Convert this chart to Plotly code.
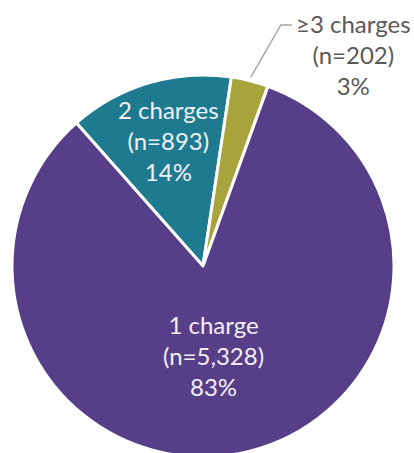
import math
import plotly.graph_objects as go

# ---- data ----
categories = ["2 charges", "≥3 charges", "1 charge"]
counts = [893, 202, 5328]
colors = ["#1E7A8E", "#A8A33A", "#573E88"]

W, H = 414, 462
cx_px, cy_px, r_px = 203, 266, 191
rotation = -41.5

fig = go.Figure(go.Pie(
    labels=categories,
    values=counts,
    sort=False,
    direction="clockwise",
    rotation=rotation,
    marker=dict(colors=colors, line=dict(color="white", width=3)),
    textinfo="none",
    hoverinfo="label+value+percent",
    showlegend=False,
    domain=dict(x=[(cx_px - r_px) / W, (cx_px + r_px) / W],
                y=[(H - cy_px - r_px) / H, (H - cy_px + r_px) / H]),
))

total = sum(counts)
angles = []
a = rotation
for v in counts:
    span = 360 * v / total
    angles.append((a, a + span))
    a += span

def px_point(angle_deg, frac):
    t = math.radians(angle_deg)
    return cx_px + frac * r_px * math.sin(t), cy_px - frac * r_px * math.cos(t)

def to_paper(x, y):
    return x / W, 1 - y / H

font_family = "Lato, Calibri, 'Open Sans', sans-serif"
annotations = []
shapes = []
label_pos = {"2 charges": (-15.5, 0.68), "1 charge": (173.5, 0.47)}
for cat, v, (a0, a1) in zip(categories, counts, angles):
    pct = round(100 * v / total)
    text = f"{cat}<br>(n={v:,})<br>{pct}%"
    mid = (a0 + a1) / 2
    if cat in label_pos:
        ang, frac = label_pos[cat]
        x, y = px_point(ang, frac)
        px_, py_ = to_paper(x, y)
        annotations.append(dict(x=px_, y=py_, xref="paper", yref="paper",
                                text=text, showarrow=False,
                                font=dict(family=font_family, size=24, color="#F2F0F6"),
                                xanchor="center", yanchor="middle"))
    else:
        x0, y0 = px_point(mid, 1.02)
        x1, y1 = x0 + 30, 25
        x2, y2 = x1 + 11, 25
        p = [to_paper(*q) for q in [(x0, y0), (x1, y1), (x2, y2)]]
        shapes.append(dict(type="path", xref="paper", yref="paper",
                           path=f"M {p[0][0]} {p[0][1]} L {p[1][0]} {p[1][1]} L {p[2][0]} {p[2][1]}",
                           line=dict(color="#A6A6A6", width=1.5)))
        tx, ty = to_paper(353, 54)
        annotations.append(dict(x=tx, y=ty, xref="paper", yref="paper",
                                text=text, showarrow=False,
                                font=dict(family=font_family, size=24, color="#595959"),
                                xanchor="center", yanchor="middle"))

fig.update_layout(
    width=W, height=H,
    margin=dict(l=0, r=0, t=0, b=0),
    paper_bgcolor="white",
    plot_bgcolor="white",
    annotations=annotations,
    shapes=shapes,
)

fig.write_html("out.html",
               config={"displayModeBar": False},
               post_script="document.body.style.margin='0';document.body.style.overflow='hidden';")
